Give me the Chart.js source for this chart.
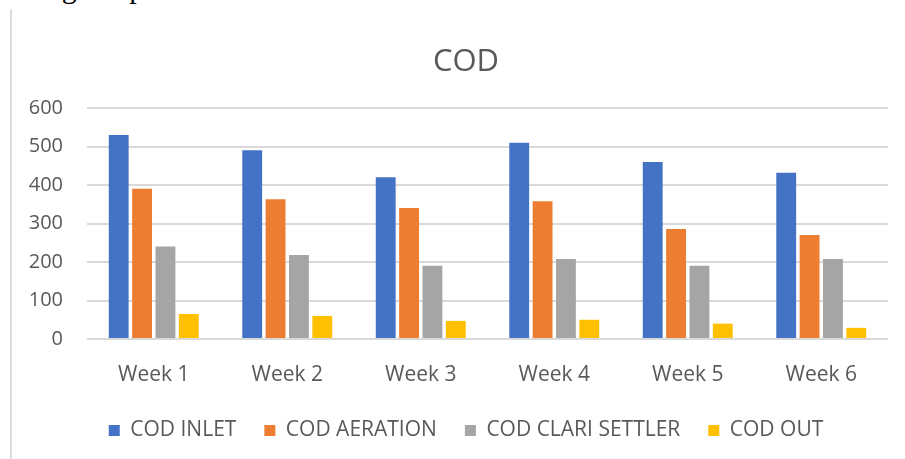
<!DOCTYPE html>
<html>
<head>
<meta charset="utf-8">
<script src="https://cdn.jsdelivr.net/npm/chart.js@4"></script>
<style>
  html, body { margin: 0; padding: 0; background: #fff; overflow: hidden; }
  body { width: 905px; height: 459px; position: relative; }
  #doc-text {
    position: absolute; left: 11px; top: -27px;
    font-family: "Liberation Serif", serif; font-size: 30px; line-height: 30px;
    color: #000; white-space: nowrap;
  }
  #frame {
    position: absolute; left: 10px; top: 9px; width: 2px; height: 460px;
    background: #dcdcdc;
  }
  #codChart { position: absolute; left: 0; top: 0; }
</style>
</head>
<body>
<div id="doc-text">and good performance.</div>
<div id="frame"></div>
<canvas id="codChart" width="905" height="459"></canvas>

<script>
// =====================
// Data
// =====================
const weeks = ["Week 1", "Week 2", "Week 3", "Week 4", "Week 5", "Week 6"]

const codInlet = [530, 490, 420, 510, 460, 432]
const codAeration = [390, 363, 340, 358, 286, 270]
const codClariSettler = [240, 218, 190, 208, 190, 208]
const codOut = [65, 60, 47, 50, 40, 29]

const yTicks = [0, 100, 200, 300, 400, 500, 600]

const textColor = "#595959"
const font = "'Open Sans', sans-serif"


// =====================
// Build chart
// =====================
function makeSet(label, data, color) {
  return {
    label: label,
    data: data,
    backgroundColor: color,
    borderWidth: 0,
    categoryPercentage: 0.7,
    barPercentage: 0.85
  }
}

// y labels stick out left of the narrow axis box, so widen the clip area
const labelRoom = {
  id: "labelRoom",
  afterLayout(chart) {
    chart.scales.y.left = 0
  }
}

new Chart(document.getElementById("codChart"), {
  type: "bar",
  data: {
    labels: weeks,
    datasets: [
      makeSet("COD INLET", codInlet, "#4472C4"),
      makeSet("COD AERATION", codAeration, "#ED7D31"),
      makeSet("COD CLARI SETTLER", codClariSettler, "#A5A5A5"),
      makeSet("COD OUT", codOut, "#FFC000")
    ]
  },
  plugins: [labelRoom],
  options: {
    responsive: false,
    animation: false,
    layout: {
      padding: { left: 44, right: 17, top: 0, bottom: 8 }
    },
    plugins: {
      title: {
        display: true,
        text: "COD",
        color: textColor,
        font: { family: font, size: 31, weight: "normal", lineHeight: 1.2 },
        padding: { top: 44, bottom: 26.8 }
      },
      legend: {
        position: "bottom",
        labels: {
          color: textColor,
          font: { family: font, size: 21 },
          boxWidth: 11,
          boxHeight: 11,
          padding: 28
        }
      },
      tooltip: { enabled: false }
    },
    scales: {
      x: {
        grid: { display: false, drawTicks: false },
        border: { display: false },
        ticks: {
          color: textColor,
          font: { family: font, size: 21 },
          padding: 23,
          maxRotation: 0
        },
        afterFit: scale => { scale.height = 53 }
      },
      y: {
        min: 0,
        max: 600,
        afterBuildTicks: scale => { scale.ticks = yTicks.map(v => ({ value: v })) },
        grid: { color: "#d9d9d9", lineWidth: 2, drawTicks: false },
        border: { display: false },
        ticks: {
          color: textColor,
          font: { family: font, size: 20 },
          padding: 24
        },
        afterFit: scale => { scale.width = 43 }
      }
    }
  }
})
</script>
</body>
</html>
